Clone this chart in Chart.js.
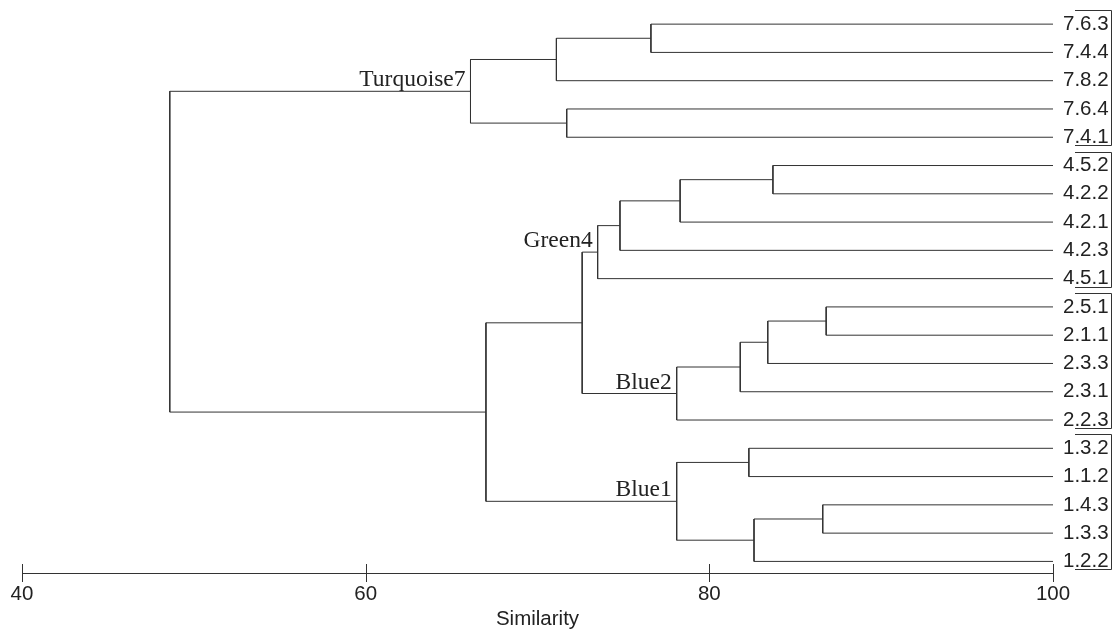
<!DOCTYPE html>
<html>
<head>
<meta charset="utf-8">
<script src="https://cdn.jsdelivr.net/npm/chart.js@4.4.0/dist/chart.umd.min.js"></script>
<style>
  html, body { margin: 0; padding: 0; background: #fff; }
  #wrap { width: 1117px; height: 630px; position: relative; }
</style>
</head>
<body>
<div id="wrap"><canvas id="dendro"></canvas></div>
<script>
// leaves, top to bottom
const leafLabels = ['7.6.3', '7.4.4', '7.8.2', '7.6.4', '7.4.1',
                    '4.5.2', '4.2.2', '4.2.1', '4.2.3', '4.5.1',
                    '2.5.1', '2.1.1', '2.3.3', '2.3.1', '2.2.3',
                    '1.3.2', '1.1.2', '1.4.3', '1.3.3', '1.2.2'];

// merges: id < 20 is a leaf, id 20+k is merge k
const mergeA = [0, 20, 3, 21, 5, 24, 25, 26, 10, 28, 29, 30, 27, 15, 17, 34, 33, 32, 23];
const mergeB = [1, 2, 4, 22, 6, 7, 8, 9, 11, 12, 13, 14, 31, 16, 18, 19, 35, 36, 37];
const mergeSim = [76.6, 71.1, 71.7, 66.1, 83.7, 78.3, 74.8, 73.5, 86.8, 83.4,
                  81.8, 78.1, 72.6, 82.3, 86.6, 82.6, 78.1, 67.0, 48.6];

const xTicks = [40, 60, 80, 100];

// cluster names sit on the merge they name
const clusterNames = ['Turquoise7', 'Green4', 'Blue2', 'Blue1'];
const clusterMerge = [3, 7, 11, 16];

// label groups boxed on the right
const groupFirst = [0, 5, 10, 15];
const groupLast = [4, 9, 14, 19];

const nLeaves = leafLabels.length;
const simOf = id => id < nLeaves ? 100 : mergeSim[id - nLeaves];
function yOf(id) {
  if (id < nLeaves) return id;
  const k = id - nLeaves;
  return (yOf(mergeA[k]) + yOf(mergeB[k])) / 2;
}

const datasets = mergeSim.map((s, k) => {
  const a = mergeA[k], b = mergeB[k];
  return {
    data: [
      { x: simOf(a), y: yOf(a) },
      { x: s, y: yOf(a) },
      { x: s, y: yOf(b) },
      { x: simOf(b), y: yOf(b) }
    ],
    showLine: true,
    borderColor: '#333',
    borderWidth: 1,
    pointRadius: 0,
    tension: 0
  };
});

const extras = {
  id: 'extras',
  afterDatasetsDraw(chart) {
    const { ctx, chartArea, scales: { x, y } } = chart;
    ctx.save();
    ctx.strokeStyle = '#333';
    ctx.lineWidth = 1;
    // tick marks cross the axis line
    xTicks.forEach(v => {
      const px = Math.round(x.getPixelForValue(v)) + 0.5;
      ctx.beginPath();
      ctx.moveTo(px, chartArea.bottom + 9);
      ctx.lineTo(px, chartArea.bottom - 9);
      ctx.stroke();
    });
    // bracket around each label group
    const bl = chartArea.right + 22, br = chartArea.right + 58.5;
    groupFirst.forEach((f, i) => {
      const t = Math.round(y.getPixelForValue(f) - 14) + 0.5;
      const b = Math.round(y.getPixelForValue(groupLast[i]) + 8) + 0.5;
      ctx.beginPath();
      ctx.moveTo(bl, t);
      ctx.lineTo(br, t);
      ctx.lineTo(br, b);
      ctx.lineTo(bl, b);
      ctx.stroke();
    });
    // cluster names
    ctx.font = '23.5px "Liberation Serif", "Times New Roman", serif';
    ctx.fillStyle = '#222';
    ctx.textAlign = 'right';
    ctx.textBaseline = 'alphabetic';
    clusterNames.forEach((name, i) => {
      const k = clusterMerge[i];
      ctx.fillText(name, x.getPixelForValue(mergeSim[k]) - 5, y.getPixelForValue(yOf(k + nLeaves)) - 5);
    });
    ctx.restore();
  }
};

const sans = '"Liberation Sans", Arial, sans-serif';

new Chart(document.getElementById('dendro'), {
  type: 'scatter',
  data: { datasets },
  options: {
    responsive: true,
    maintainAspectRatio: false,
    animation: false,
    layout: { padding: { left: 22, top: 10, right: 0, bottom: 0 } },
    plugins: { legend: { display: false }, tooltip: { enabled: false } },
    scales: {
      x: {
        type: 'linear',
        min: 40,
        max: 100,
        afterBuildTicks: s => { s.ticks = xTicks.map(v => ({ value: v })); },
        grid: { display: false, drawTicks: false },
        border: { display: true, color: '#333', width: 1 },
        ticks: { font: { family: sans, size: 20.5 }, color: '#222', padding: 9 },
        title: {
          display: true,
          text: 'Similarity',
          font: { family: sans, size: 20.5, lineHeight: 1 },
          color: '#222',
          padding: { top: 0, bottom: 0 }
        },
        afterFit: s => { s.height = 57; }
      },
      y: {
        type: 'linear',
        position: 'right',
        reverse: true,
        min: -0.5,
        max: 19.41,
        afterBuildTicks: s => { s.ticks = leafLabels.map((_, i) => ({ value: i })); },
        grid: { display: false, drawTicks: false },
        border: { display: false },
        ticks: {
          autoSkip: false,
          font: { family: sans, size: 20.5 },
          color: '#222',
          padding: 10,
          callback: v => leafLabels[v]
        },
        afterFit: s => { s.width = 64; s.paddingTop = 0; s.paddingBottom = 0; }
      }
    }
  },
  plugins: [extras]
});
</script>
</body>
</html>
